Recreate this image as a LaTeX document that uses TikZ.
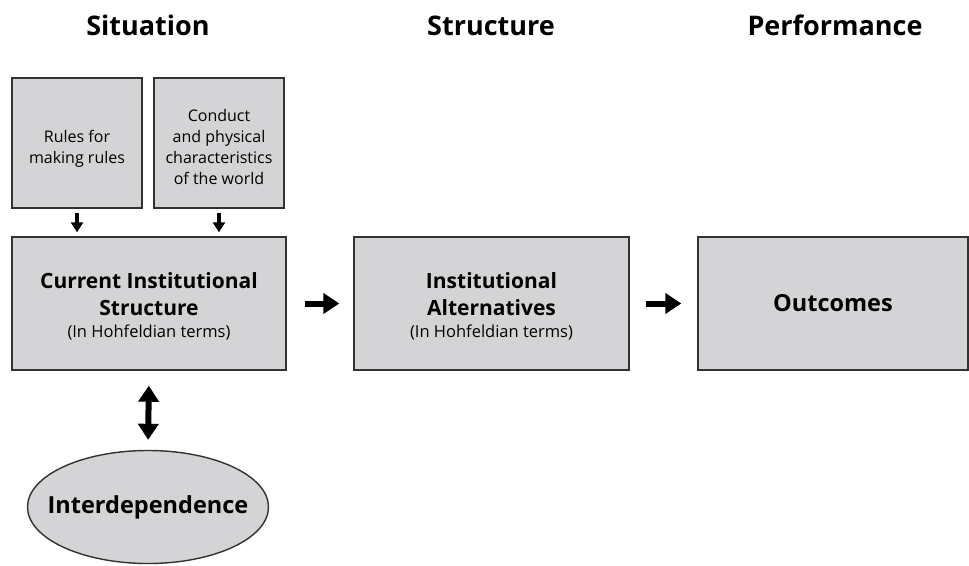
\documentclass[tikz,border=0pt]{standalone}
\usepackage{fontspec}
\setmainfont{Open Sans}
\usetikzlibrary{arrows.meta,shapes.geometric}
\definecolor{boxfill}{RGB}{212,212,214}
\definecolor{boxline}{RGB}{50,50,50}
\newcommand{\bigf}{\fontsize{21}{27}\selectfont\bfseries}
\newcommand{\subf}{\fontsize{16.5}{22}\selectfont\mdseries}
\tikzset{
  box/.style={draw=boxline,line width=1.4pt,fill=boxfill,inner sep=0pt,align=center},
  smalltxt/.style={font=\fontsize{16}{20.7}\selectfont},
  heading/.style={font=\fontsize{27}{30}\selectfont\bfseries,anchor=base},
  arr/.style={line width=6pt,-{Triangle[width=20pt,length=16pt]}},
  sarr/.style={line width=3.5pt,-{Triangle[width=12pt,length=10pt]}},
  darr/.style={line width=6pt,{Triangle[width=20pt,length=16pt]}-{Triangle[width=20pt,length=16pt]}},
}
\begin{document}
\begin{tikzpicture}[x=1pt,y=-1pt]
\useasboundingbox (0,0) rectangle (969,565);
\node[heading] (h1) at (148,35) {Situation};
\node[heading] (h2) at (491,35) {Structure};
\node[heading] (h3) at (835,35) {Performance};

\node[box,minimum width=130pt,minimum height=130pt] (rules) at (77,143) {};
\node[smalltxt,align=center] (rulestxt) at (77,148.5) {Rules for\\making rules};
\node[box,minimum width=130pt,minimum height=130pt] (conduct) at (219,143) {};
\node[smalltxt,align=center] (conducttxt) at (219,147) {Conduct\\and physical\\characteristics\\of the world};

\node[box,minimum width=274pt,minimum height=133pt] (current) at (149,303.5) {};
\node[font=\bigf,align=center] (currenttxt) at (149,306) {Current Institutional\\Structure\\[-5pt]\subf (In Hohfeldian terms)};
\node[box,minimum width=275pt,minimum height=133pt] (alt) at (491.5,303.5) {};
\node[font=\bigf,align=center] (alttxt) at (491.5,306) {Institutional\\Alternatives\\[-5pt]\subf (In Hohfeldian terms)};
\node[box,minimum width=270pt,minimum height=133pt,font=\fontsize{23.5}{28}\selectfont\bfseries] (out) at (833,303.5) {Outcomes};

\node[box,ellipse,minimum width=241pt,minimum height=113pt] (inter) at (148,507) {};
\node[font=\fontsize{23.5}{28}\selectfont\bfseries] (intertxt) at (inter.center) {Interdependence};

\draw[sarr,shorten <=4pt,shorten >=4pt] (rules.south) -- (rules.south |- current.north);
\draw[sarr,shorten <=4pt,shorten >=4pt] (conduct.south) -- (conduct.south |- current.north);
\draw[arr,shorten <=18pt,shorten >=14pt] (current.east) -- (alt.west);
\draw[arr,shorten <=16pt,shorten >=16pt] (alt.east) -- (out.west);
\draw[darr,shorten <=15pt,shorten >=10pt] (current.south) -- (inter.north);
\end{tikzpicture}
\end{document}
